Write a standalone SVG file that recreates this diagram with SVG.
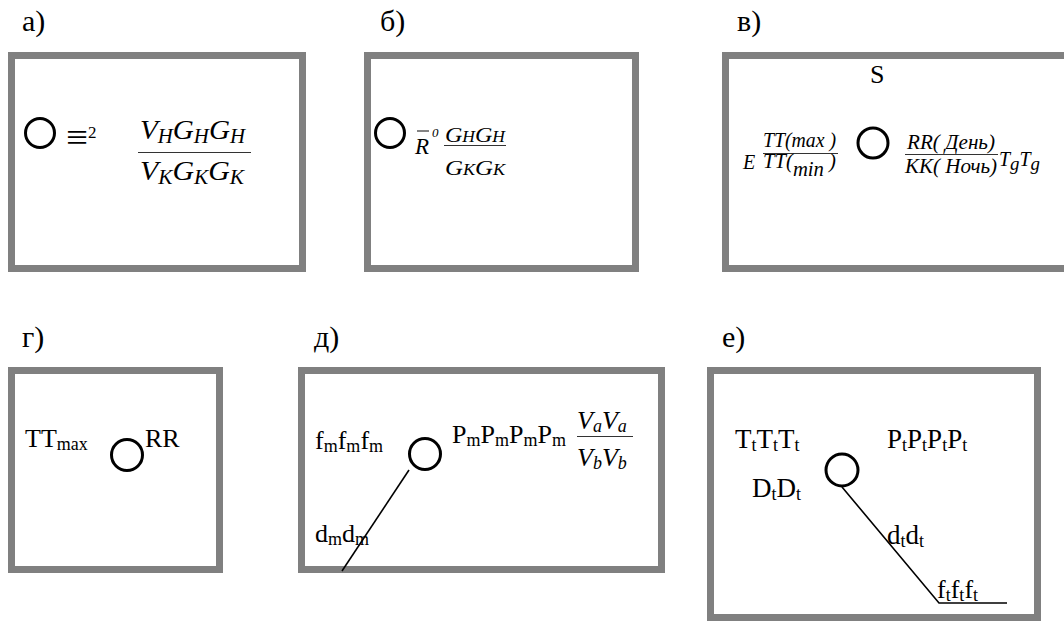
<svg xmlns="http://www.w3.org/2000/svg" width="1064" height="622" viewBox="0 0 1064 622" font-family="'Liberation Serif', 'Times New Roman', Times, serif">
  <style>
    text { font-family: "Liberation Serif", "Times New Roman", Times, serif; fill: #000; }
    .lbl { font-size: 30px; }
    .it { font-style: italic; }
    .frame { fill: none; stroke: #808080; stroke-width: 7; }
    .ring { fill: #fff; stroke: #000; stroke-width: 3; }
    .bar { stroke: #333; stroke-width: 1.2; }
    .wire { fill: none; stroke: #000; stroke-width: 1.6; }
  </style>
  <rect width="1064" height="622" fill="#fff"/>

  <!-- panel labels -->
  <g id="labels" class="lbl">
    <text x="22" y="31">а)</text>
    <text x="380" y="31">б)</text>
    <text x="737" y="31">в)</text>
    <text x="22" y="347">г)</text>
    <text x="314" y="347">д)</text>
    <text x="722" y="347">е)</text>
  </g>

  <!-- frames -->
  <g id="frames">
    <rect class="frame" x="11.5" y="55.5" width="291" height="213"/>
    <rect class="frame" x="367.5" y="55.5" width="268" height="213"/>
    <rect class="frame" x="725.5" y="55.5" width="360" height="213"/>
    <rect class="frame" x="11.5" y="370.5" width="208" height="199"/>
    <rect class="frame" x="301.5" y="370.5" width="360" height="199"/>
    <rect class="frame" x="710.5" y="370.5" width="327" height="247"/>
  </g>

  <!-- connectors -->
  <g id="connectors">
    <line class="wire" x1="409" y1="470" x2="342" y2="571"/>
    <polyline class="wire" points="842,487 939,603 1007,603"/>
  </g>

  <!-- panel а -->
  <g id="node-a">
    <circle class="ring" cx="40" cy="133" r="14.5"/>
    <text x="66" y="150" font-size="38" textLength="22" lengthAdjust="spacingAndGlyphs">≡</text>
    <text x="88" y="138" font-size="17">2</text>
    <text class="it" x="140" y="139" font-size="28" textLength="105" lengthAdjust="spacingAndGlyphs">V<tspan dy="4" font-size="20">Н</tspan><tspan dy="-4">G</tspan><tspan dy="4" font-size="20">Н</tspan><tspan dy="-4">G</tspan><tspan dy="4" font-size="20">Н</tspan></text>
    <line class="bar" x1="138" y1="152.5" x2="251" y2="152.5"/>
    <text class="it" x="140" y="180" font-size="28" textLength="104" lengthAdjust="spacingAndGlyphs">V<tspan dy="4" font-size="20">К</tspan><tspan dy="-4">G</tspan><tspan dy="4" font-size="20">К</tspan><tspan dy="-4">G</tspan><tspan dy="4" font-size="20">К</tspan></text>
  </g>

  <!-- panel б -->
  <g id="node-b">
    <circle class="ring" cx="390" cy="133" r="14.5"/>
    <text class="it" x="415" y="154" font-size="23">R</text>
    <line class="bar" x1="417" y1="131" x2="429" y2="131" stroke-width="1.5"/>
    <text class="it" x="432" y="137" font-size="13">0</text>
    <text class="it" x="445" y="142" font-size="22" textLength="60" lengthAdjust="spacingAndGlyphs">G<tspan font-size="16">Н</tspan>G<tspan font-size="16">Н</tspan></text>
    <line class="bar" x1="444" y1="145.5" x2="506" y2="145.5"/>
    <text class="it" x="445" y="175" font-size="22" textLength="60" lengthAdjust="spacingAndGlyphs">G<tspan font-size="16">К</tspan>G<tspan font-size="16">К</tspan></text>
  </g>

  <!-- panel в -->
  <g id="node-v">
    <circle class="ring" cx="873" cy="143" r="15"/>
    <text x="870" y="83" font-size="26">S</text>
    <text class="it" x="743" y="169" font-size="20">E</text>
    <text class="it" x="763" y="147" font-size="20" textLength="73" lengthAdjust="spacingAndGlyphs">TT(max )</text>
    <line class="bar" x1="763" y1="153.5" x2="838" y2="153.5"/>
    <text class="it" x="763" y="168" font-size="20" textLength="73" lengthAdjust="spacingAndGlyphs">TT(<tspan dy="8">min</tspan><tspan dy="-8"> )</tspan></text>
    <text class="it" x="907" y="149" font-size="20" textLength="88" lengthAdjust="spacingAndGlyphs">RR( День)</text>
    <line class="bar" x1="905" y1="154.5" x2="998" y2="154.5"/>
    <text class="it" x="905" y="173" font-size="20" textLength="92" lengthAdjust="spacingAndGlyphs">КК( Ночь)</text>
    <text class="it" x="999" y="166" font-size="20" textLength="41" lengthAdjust="spacingAndGlyphs">T<tspan dy="4" font-size="19">g</tspan><tspan dy="-4">T</tspan><tspan dy="4" font-size="19">g</tspan></text>
  </g>

  <!-- panel г -->
  <g id="node-g">
    <circle class="ring" cx="127" cy="455" r="15.5"/>
    <text x="25" y="447" font-size="26">TT<tspan dy="3" font-size="18">max</tspan></text>
    <text x="145" y="447" font-size="26">RR</text>
  </g>

  <!-- panel д -->
  <g id="node-d">
    <circle class="ring" cx="425" cy="454" r="15.5"/>
    <text x="315" y="449" font-size="26">f<tspan dy="3" font-size="18">m</tspan><tspan dy="-3">f</tspan><tspan dy="3" font-size="18">m</tspan><tspan dy="-3">f</tspan><tspan dy="3" font-size="18">m</tspan></text>
    <text x="452" y="443" font-size="26">P<tspan dy="3" font-size="18">m</tspan><tspan dy="-3">P</tspan><tspan dy="3" font-size="18">m</tspan><tspan dy="-3">P</tspan><tspan dy="3" font-size="18">m</tspan><tspan dy="-3">P</tspan><tspan dy="3" font-size="18">m</tspan></text>
    <text class="it" x="577" y="429" font-size="26">V<tspan dy="3" font-size="18">a</tspan><tspan dy="-3">V</tspan><tspan dy="3" font-size="18">a</tspan></text>
    <line class="bar" x1="577" y1="436.5" x2="633" y2="436.5"/>
    <text class="it" x="577" y="466" font-size="26">V<tspan dy="3" font-size="18">b</tspan><tspan dy="-3">V</tspan><tspan dy="3" font-size="18">b</tspan></text>
    <text x="315" y="542" font-size="26">d<tspan dy="3" font-size="18">m</tspan><tspan dy="-3">d</tspan><tspan dy="3" font-size="18">m</tspan></text>
  </g>

  <!-- panel е -->
  <g id="node-e">
    <circle class="ring" cx="842" cy="470" r="16"/>
    <text x="735" y="448" font-size="27">T<tspan dy="3" font-size="18">t</tspan><tspan dy="-3">T</tspan><tspan dy="3" font-size="18">t</tspan><tspan dy="-3">T</tspan><tspan dy="3" font-size="18">t</tspan></text>
    <text x="887" y="448" font-size="27">P<tspan dy="3" font-size="18">t</tspan><tspan dy="-3">P</tspan><tspan dy="3" font-size="18">t</tspan><tspan dy="-3">P</tspan><tspan dy="3" font-size="18">t</tspan><tspan dy="-3">P</tspan><tspan dy="3" font-size="18">t</tspan></text>
    <text x="752" y="497" font-size="27">D<tspan dy="3" font-size="18">t</tspan><tspan dy="-3">D</tspan><tspan dy="3" font-size="18">t</tspan></text>
    <text x="887" y="544" font-size="27">d<tspan dy="3" font-size="18">t</tspan><tspan dy="-3">d</tspan><tspan dy="3" font-size="18">t</tspan></text>
    <text x="937" y="598" font-size="26">f<tspan dy="3" font-size="18">t</tspan><tspan dy="-3">f</tspan><tspan dy="3" font-size="18">t</tspan><tspan dy="-3">f</tspan><tspan dy="3" font-size="18">t</tspan></text>
  </g>
</svg>
